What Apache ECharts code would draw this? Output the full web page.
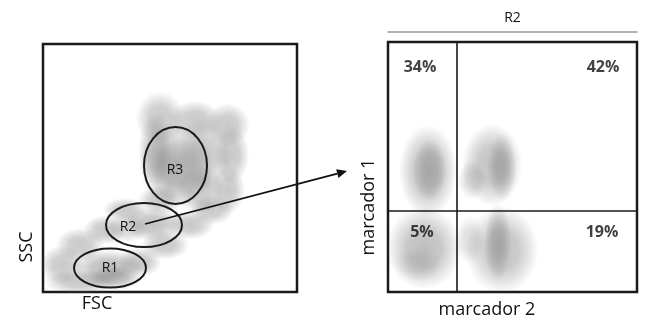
<!DOCTYPE html>
<html>
<head>
<meta charset="utf-8">
<script src="https://cdn.jsdelivr.net/npm/echarts/dist/echarts.min.js"></script>
<style>
  html, body { margin: 0; padding: 0; background: #fff; }
  #chart { width: 646px; height: 324px; }
</style>
</head>
<body>
<div id="chart"></div>
<script>
// FSC / SSC channel units (left plot) and marker channel units (right plot)
const leftRangeX = [0, 254];
const leftRangeY = [0, 248];
const rightRangeX = [0, 249];
const rightRangeY = [0, 250];

// cell density blobs: [x, y, spreadX, spreadY, density]
const leftCloud = [
  [117, 174, 20, 22, 0.34], [152, 172, 22, 16, 0.34], [185, 167, 18, 18, 0.34],
  [189, 137, 14, 24, 0.34], [185, 102, 14, 20, 0.34], [169, 82, 18, 12, 0.34],
  [147, 67, 20, 12, 0.34], [122, 47, 20, 12, 0.34], [97, 30, 18, 12, 0.34],
  [72, 14, 22, 10, 0.34], [37, 10, 30, 10, 0.34], [19, 27, 18, 16, 0.34],
  [37, 47, 20, 14, 0.34], [62, 62, 18, 12, 0.34], [82, 82, 18, 10, 0.34],
  [162, 137, 22, 30, 0.34], [157, 102, 20, 20, 0.34], [112, 142, 14, 30, 0.34],
  [117, 92, 18, 12, 0.34],
  [133, 127, 30, 36, 0.38], [129, 122, 18, 24, 0.22], [109, 68, 24, 14, 0.38],
  [85, 64, 16, 12, 0.24], [65, 24, 30, 15, 0.4]
];
const rightCloud = [
  [40, 121, 24, 38, 0.4], [42, 122, 14, 26, 0.28],
  [104, 127, 25, 34, 0.38], [114, 125, 12, 28, 0.32], [84, 112, 12, 16, 0.22],
  [36, 44, 31, 34, 0.4], [30, 28, 20, 14, 0.16],
  [114, 42, 30, 36, 0.38], [110, 50, 11, 32, 0.32], [82, 52, 12, 20, 0.2]
];

// gates: [name, centerX, centerY, radiusX, radiusY, labelX, labelY]
const gates = [
  ['R1', 67, 24, 36, 19.5, 67, 24],
  ['R2', 101, 67, 38, 22, 85, 65],
  ['R3', 132.5, 126.5, 31.5, 38.5, 132, 122]
];

// quadrant thresholds on marcador 2 / marcador 1
const quadX = 69;
const quadY = 81;
const quadrantNames = ['34%', '42%', '5%', '19%'];
const quadrantPos = [[32, 225], [215, 225], [34, 60], [214, 60]];

// arrow from gate R2 into the R2 quadrant plot
const arrowStart = [102, 68];
const arrowEnd = [-41, 121];

const chart = echarts.init(document.getElementById('chart'));
const FONT = '"Open Sans", sans-serif';
const INK = '#1a1a1a';
const BLOB_SOFTEN = 1.22;

function renderBlob(params, api) {
  const c = api.coord([api.value(0), api.value(1)]);
  const s = api.size([api.value(2), api.value(3)]);
  const a = api.value(4);
  // unit circle stretched to the blob's spread so the gradient follows it
  return {
    type: 'circle',
    x: c[0], y: c[1],
    scaleX: s[0] * BLOB_SOFTEN, scaleY: s[1] * BLOB_SOFTEN,
    shape: { cx: 0, cy: 0, r: 1 },
    style: {
      fill: {
        type: 'radial', x: 0.5, y: 0.5, r: 0.5,
        colorStops: [
          { offset: 0, color: `rgba(95,95,95,${a})` },
          { offset: 0.45, color: `rgba(100,100,100,${a * 0.88})` },
          { offset: 0.75, color: `rgba(110,110,110,${a * 0.45})` },
          { offset: 1, color: 'rgba(120,120,120,0)' }
        ]
      }
    }
  };
}

function renderGate(params, api) {
  const g = gates[params.dataIndex];
  const c = api.coord([g[1], g[2]]);
  const s = api.size([g[3], g[4]]);
  const l = api.coord([g[5], g[6]]);
  return {
    type: 'group',
    children: [
      {
        type: 'ellipse',
        shape: { cx: c[0], cy: c[1], rx: s[0], ry: s[1] },
        style: { fill: 'none', stroke: INK, lineWidth: 2 }
      },
      {
        type: 'text',
        x: l[0], y: l[1],
        style: { text: g[0], fill: '#111', font: `14px ${FONT}`, align: 'center', verticalAlign: 'middle' }
      }
    ]
  };
}

const hiddenAxis = { show: false };

chart.setOption({
  animation: false,
  grid: [
    { left: 43, top: 44, width: 254, height: 248, show: true, borderColor: INK, borderWidth: 2.5 },
    { left: 388, top: 42, width: 249, height: 250, show: true, borderColor: INK, borderWidth: 2.5 }
  ],
  xAxis: [
    { gridIndex: 0, type: 'value', min: leftRangeX[0], max: leftRangeX[1], ...hiddenAxis },
    { gridIndex: 1, type: 'value', min: rightRangeX[0], max: rightRangeX[1], ...hiddenAxis },
    {
      gridIndex: 1, type: 'value', min: rightRangeX[0], max: rightRangeX[1],
      position: 'top', offset: 10,
      axisLine: { show: true, lineStyle: { color: '#9a9a9a', width: 1.5 } },
      axisTick: { show: false }, axisLabel: { show: false }, splitLine: { show: false },
      name: 'R2', nameLocation: 'middle', nameGap: 7,
      nameTextStyle: { color: '#111', fontSize: 14, fontFamily: 'Open Sans' }
    }
  ],
  yAxis: [
    { gridIndex: 0, type: 'value', min: leftRangeY[0], max: leftRangeY[1], ...hiddenAxis },
    { gridIndex: 1, type: 'value', min: rightRangeY[0], max: rightRangeY[1], ...hiddenAxis }
  ],
  series: [
    {
      type: 'custom', xAxisIndex: 0, yAxisIndex: 0,
      renderItem: renderBlob, encode: { x: 0, y: 1 }, data: leftCloud, silent: true
    },
    {
      type: 'custom', xAxisIndex: 1, yAxisIndex: 1,
      renderItem: renderBlob, encode: { x: 0, y: 1 }, data: rightCloud, silent: true
    },
    {
      type: 'custom', xAxisIndex: 0, yAxisIndex: 0, z: 5,
      renderItem: renderGate, encode: { x: 1, y: 2 },
      data: gates.map((g) => [g[1], g[1], g[2]])
    },
    {
      type: 'scatter', xAxisIndex: 1, yAxisIndex: 1, z: 5,
      symbolSize: 0,
      data: quadrantNames.map((n, i) => ({ name: n, value: quadrantPos[i] })),
      label: {
        show: true, position: 'inside', formatter: '{b}',
        color: '#111', fontSize: 16, fontWeight: 'bold', fontFamily: 'Open Sans'
      },
      markLine: {
        silent: true, symbol: 'none', animation: false,
        label: { show: false },
        lineStyle: { color: INK, width: 1.6, type: 'solid' },
        data: [{ xAxis: quadX }, { yAxis: quadY }]
      }
    }
  ]
});

const p0 = chart.convertToPixel({ gridIndex: 0 }, arrowStart);
const p1 = chart.convertToPixel({ gridIndex: 1 }, arrowEnd);
const ang = Math.atan2(p1[1] - p0[1], p1[0] - p0[0]);
const headLen = 10, headW = 4.5;
const base = [p1[0] - headLen * Math.cos(ang), p1[1] - headLen * Math.sin(ang)];
const nx = -Math.sin(ang), ny = Math.cos(ang);

chart.setOption({
  graphic: [
    {
      type: 'line', z: 10,
      shape: { x1: p0[0], y1: p0[1], x2: base[0], y2: base[1] },
      style: { stroke: '#111', lineWidth: 1.8 }
    },
    {
      type: 'polygon', z: 10,
      shape: { points: [p1, [base[0] + nx * headW, base[1] + ny * headW], [base[0] - nx * headW, base[1] - ny * headW]] },
      style: { fill: '#111' }
    },
    {
      type: 'text', x: 27, y: 247, rotation: Math.PI / 2,
      style: { text: 'SSC', fill: '#111', font: `18px ${FONT}`, align: 'center', verticalAlign: 'middle' }
    },
    {
      type: 'text', x: 97, y: 304,
      style: { text: 'FSC', fill: '#111', font: `18px ${FONT}`, align: 'center', verticalAlign: 'middle' }
    },
    {
      type: 'text', x: 369, y: 207, rotation: Math.PI / 2,
      style: { text: 'marcador 1', fill: '#111', font: `18px ${FONT}`, align: 'center', verticalAlign: 'middle' }
    },
    {
      type: 'text', x: 487, y: 310,
      style: { text: 'marcador 2', fill: '#111', font: `18px ${FONT}`, align: 'center', verticalAlign: 'middle' }
    }
  ]
});
</script>
</body>
</html>
